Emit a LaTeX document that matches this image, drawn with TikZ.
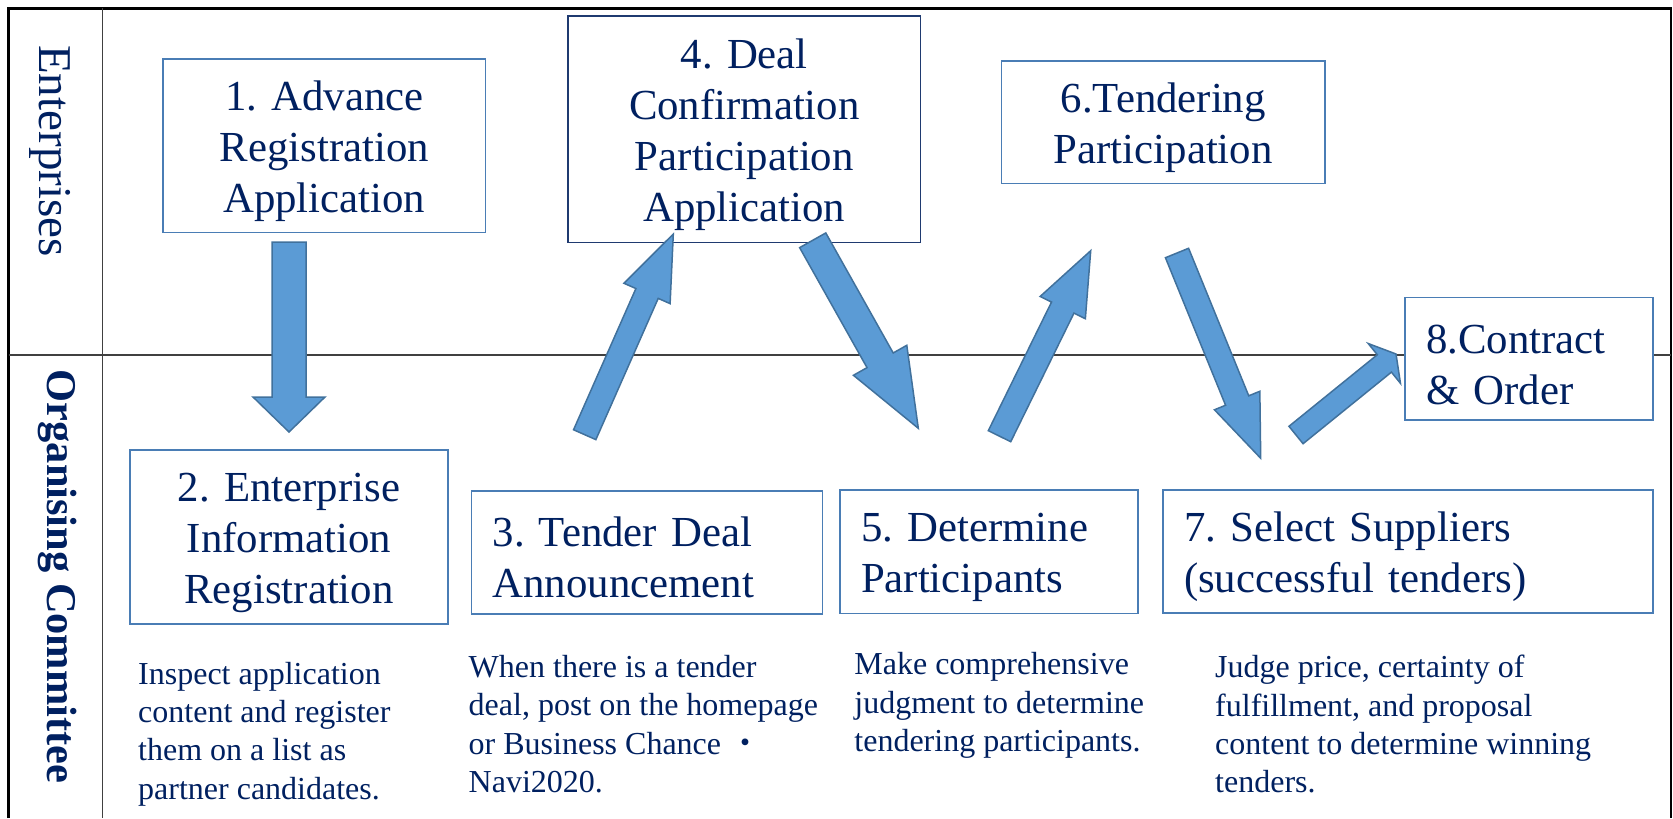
\documentclass[tikz,border=0pt]{standalone}
\usepackage{fontspec}
\setmainfont{Liberation Serif}
\newfontfamily\cjkfont{Noto Sans CJK JP}
\usepackage{tikz}
\usetikzlibrary{calc}
\frenchspacing

\definecolor{navy}{HTML}{002060}
\definecolor{boxblue}{HTML}{4A7DB5}
\definecolor{darkbox}{HTML}{1F3A70}
\definecolor{arrowfill}{HTML}{5B9BD5}
\definecolor{arrowline}{HTML}{41719C}

\tikzset{
	frame/.style={line width=1.2pt, draw=black},
	divider/.style={line width=0.7pt, draw=black!75},
	stepbox/.style={draw=boxblue, line width=0.8pt, fill=white, text=navy, inner sep=0pt,
		font=\fontsize{21.4}{25.5}\selectfont, align=center,
		execute at begin node={\vrule height 20pt width 0pt}},
	leftbox/.style={stepbox, align=left, inner xsep=10.5pt},
	note/.style={text=navy, inner sep=0pt, anchor=north west, align=left,
		font=\fontsize{16}{19.2}\selectfont},
	lane/.style={text=navy, rotate=-90, inner sep=0pt},
	flow/.style={fill=arrowfill, draw=arrowline, line width=0.75pt, line join=miter},
}

% block arrow: tail, tip, half shaft width, half head width, head length
\newcommand{\blockarrow}[5]{
	\coordinate (hb) at ($(#2)!#5!(#1)$);
	\draw[flow] ($(#1)!#3!90:(#2)$) -- ($(hb)!#3!90:(#2)$) -- ($(hb)!#4!90:(#2)$) -- (#2)
		-- ($(hb)!#4!-90:(#2)$) -- ($(hb)!#3!-90:(#2)$) -- ($(#1)!#3!-90:(#2)$) -- cycle;
}

\begin{document}
\begin{tikzpicture}[x=0.5pt,y=-0.5pt]
	\useasboundingbox (0,0) rectangle (1673,818);

	% swimlanes
	\draw[frame] (8.5,818) -- (8.5,8.5) -- (1671,8.5) -- (1671,818);
	\draw[divider] (102.6,8.5) -- (102.6,818);
	\draw[divider] (8.5,355) -- (1671,355);

	\node[lane, font=\fontsize{23.5}{28}\selectfont] (entlabel) at (50,151) {Enterprises};
	\node[lane, font=\bfseries\fontsize{21.2}{25}\selectfont] (orglabel) at (57.3,576.5) {Organising Committee};

	% steps
	\node[stepbox, text width=161.25pt, minimum height=86.8pt] (step1) at (324.3,145.8) {1. Advance\\Registration\\Application};
	\node[stepbox, text width=159pt, minimum height=87pt] (step2) at (289,537) {2. Enterprise\\Information\\Registration};
	\node[leftbox, text width=154.5pt, minimum height=61.5pt] (step3) at (647.1,552.5) {3. Tender Deal\\Announcement};
	\node[stepbox, draw=darkbox, text width=176.25pt, minimum height=113.25pt] (step4) at (744.3,129.3) {4. Deal\\Confirmation\\Participation\\Application};
	\node[leftbox, text width=128pt, minimum height=61.75pt] (step5) at (989,551.75) {5. Determine\\Participants};
	\node[stepbox, text width=161.6pt, minimum height=61.2pt] (step6) at (1163.2,122.2) {6.Tendering\\Participation};
	\node[leftbox, text width=224pt, minimum height=61.5pt] (step7) at (1408,551.4) {7. Select Suppliers\\(successful tenders)};
	\node[leftbox, text width=103pt, minimum height=61.2pt] (step8) at (1529,358.8) {8.Contract\\\& Order};

	% notes under the committee steps
	\node[note] (note2) at (137.8,661.4) {Inspect application\\content and register\\them on a list as\\partner candidates.};
	\node[note] (note3) at (468.3,654.8) {When there is a tender\\deal, post on the homepage\\or Business Chance {\cjkfont ・}\\Navi2020.};
	\node[note] (note5) at (854,652.1) {Make comprehensive\\judgment to determine\\tendering participants.};
	\node[note] (note7) at (1214.8,654.8) {Judge price, certainty of\\fulfillment, and proposal\\content to determine winning\\tenders.};

	% flow arrows
	\coordinate (arr1s) at (289,242);
	\coordinate (arr1e) at (289,432);
	\coordinate (arr2s) at (584.7,434.7);
	\coordinate (arr2e) at (673.3,234);
	\coordinate (arr3s) at (812.7,240.3);
	\coordinate (arr3e) at (918.3,428.3);
	\coordinate (arr4s) at (999.5,436.2);
	\coordinate (arr4e) at (1090.7,250.7);
	\coordinate (arr5s) at (1177,253);
	\coordinate (arr5e) at (1260.7,458.3);
	\coordinate (arr6s) at (1296,435);
	\coordinate (arr6e) at (1396,354);

	\foreach \from/\to/\sw/\hw/\hl in {
		arr1s/arr1e/8.5pt/18pt/17.5pt, arr2s/arr2e/6.1pt/12.6pt/32.5pt,
		arr3s/arr3e/7.5pt/15.3pt/39pt, arr4s/arr4e/6.25pt/12.6pt/31.7pt,
		arr5s/arr5e/6.25pt/12.25pt/31.2pt, arr6s/arr6e/5.6pt/12.8pt/7.5pt
	}{
		\blockarrow{\from}{\to}{\sw}{\hw}{\hl}
	};

\end{tikzpicture}
\end{document}
